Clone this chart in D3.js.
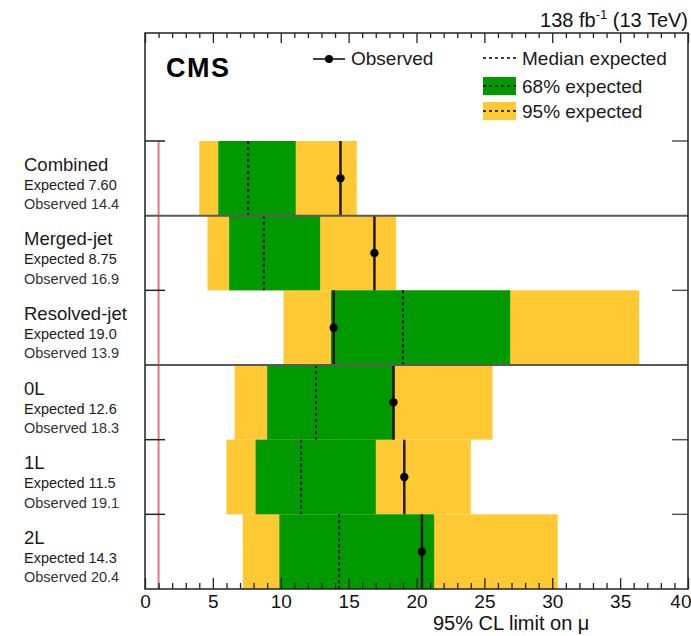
<!DOCTYPE html>
<html>
<head>
<meta charset="utf-8">
<script src="https://cdn.jsdelivr.net/npm/d3@7"></script>
<style>
  html, body { margin: 0; padding: 0; background: #fff; }
  svg { display: block; font-family: "Liberation Sans", Arial, Helvetica, sans-serif; }
</style>
</head>
<body>
<svg id="chart" width="691" height="636"></svg>
<script>
// Upper limits at 95% CL on the signal strength, per analysis channel
const categories = ["Combined", "Merged-jet", "Resolved-jet", "0L", "1L", "2L"];
const expected   = [7.60, 8.75, 19.0, 12.6, 11.5, 14.3];
const observed   = [14.4, 16.9, 13.9, 18.3, 19.1, 20.4];
const lo95       = [4.0, 4.6, 10.2, 6.6, 6.0, 7.2];
const lo68       = [5.4, 6.2, 13.7, 9.0, 8.15, 9.9];
const hi68       = [11.1, 12.9, 26.9, 18.4, 17.0, 21.3];
const hi95       = [15.6, 18.5, 36.4, 25.6, 24.0, 30.4];
const xMajorTicks = [0, 5, 10, 15, 20, 25, 30, 35, 40];
const expectedLabels = ["7.60", "8.75", "19.0", "12.6", "11.5", "14.3"];
const observedLabels = ["14.4", "16.9", "13.9", "18.3", "19.1", "20.4"];

const rows = categories.map((c, i) => ({
  name: c, exp: expected[i], obs: observed[i],
  lo95: lo95[i], lo68: lo68[i], hi68: hi68[i], hi95: hi95[i],
  expLabel: expectedLabels[i], obsLabel: observedLabels[i]
}));

const GREEN = "#009a00", YELLOW = "#ffc933";
const frame = { left: 145, right: 688, top: 33, bottom: 589 };
const rowsTop = 141;

const svg = d3.select("#chart");

const x = d3.scaleLinear().domain([0, 40]).range([frame.left, frame.right]);
const y = d3.scaleBand().domain(categories).range([rowsTop, frame.bottom]).padding(0);

// bands
const g = svg.append("g");
g.selectAll("rect.y95").data(rows).join("rect")
  .attr("x", d => x(d.lo95)).attr("width", d => x(d.hi95) - x(d.lo95))
  .attr("y", d => y(d.name)).attr("height", y.bandwidth())
  .attr("fill", YELLOW);
g.selectAll("rect.g68").data(rows).join("rect")
  .attr("x", d => x(d.lo68)).attr("width", d => x(d.hi68) - x(d.lo68))
  .attr("y", d => y(d.name)).attr("height", y.bandwidth())
  .attr("fill", GREEN);

// median expected
g.selectAll("line.med").data(rows).join("line")
  .attr("x1", d => x(d.exp)).attr("x2", d => x(d.exp))
  .attr("y1", d => y(d.name)).attr("y2", d => y(d.name) + y.bandwidth())
  .attr("stroke", "#111").attr("stroke-width", 2).attr("stroke-dasharray", "3,3");

// observed
g.selectAll("line.obs").data(rows).join("line")
  .attr("x1", d => x(d.obs)).attr("x2", d => x(d.obs))
  .attr("y1", d => y(d.name)).attr("y2", d => y(d.name) + y.bandwidth())
  .attr("stroke", "#2a1608").attr("stroke-width", 2.5);
g.selectAll("circle.obs").data(rows).join("circle")
  .attr("cx", d => x(d.obs)).attr("cy", d => y(d.name) + y.bandwidth() / 2)
  .attr("r", 4.2).attr("fill", "#000");

// mu = 1 reference
svg.append("line")
  .attr("x1", x(1)).attr("x2", x(1)).attr("y1", rowsTop).attr("y2", frame.bottom)
  .attr("stroke", "#e8747e").attr("stroke-width", 2);

// separators between groups
[categories[1], categories[3]].forEach(c => {
  svg.append("line")
    .attr("x1", frame.left).attr("x2", frame.right)
    .attr("y1", y(c)).attr("y2", y(c))
    .attr("stroke", "#5a5a5a").attr("stroke-width", 2);
});

// y ticks on both sides
const yTicks = [rowsTop, y(categories[2]), y(categories[4]), y(categories[5])];
yTicks.forEach(v => {
  svg.append("line").attr("x1", frame.left).attr("x2", frame.left + 20)
    .attr("y1", v).attr("y2", v).attr("stroke", "#222").attr("stroke-width", 1.5);
  svg.append("line").attr("x1", frame.right - 16).attr("x2", frame.right)
    .attr("y1", v).attr("y2", v).attr("stroke", "#555").attr("stroke-width", 1.5);
});

// x axes (bottom with labels, top mirrored ticks)
const minorTicks = d3.range(0, 41, 1).filter(v => v % 5 !== 0);
const bottomMajor = svg.append("g").attr("transform", `translate(0,${frame.bottom})`);
bottomMajor.call(d3.axisTop(x).tickValues(xMajorTicks).tickSize(11).tickFormat(""));
bottomMajor.select(".domain").remove();
const bottomMinor = svg.append("g").attr("transform", `translate(0,${frame.bottom})`);
bottomMinor.call(d3.axisTop(x).tickValues(minorTicks).tickSize(6).tickFormat(""));
bottomMinor.select(".domain").remove();
const bottomLabels = svg.append("g").attr("transform", `translate(0,${frame.bottom})`);
bottomLabels.call(d3.axisBottom(x).tickValues(xMajorTicks).tickSize(0).tickPadding(6)
  .tickFormat(d3.format("d")));
bottomLabels.select(".domain").remove();
bottomLabels.selectAll("text").attr("font-size", 19).attr("fill", "#111")
  .attr("font-family", "Liberation Sans, Arial, sans-serif");
// the last label sits at the window's right edge; keep it inside
bottomLabels.selectAll(".tick").filter(d => d === 40).select("text")
  .attr("text-anchor", "end").attr("dx", 3);

const topMajor = svg.append("g").attr("transform", `translate(0,${frame.top})`);
topMajor.call(d3.axisBottom(x).tickValues(xMajorTicks).tickSize(10).tickFormat(""));
topMajor.select(".domain").remove();
const topMinor = svg.append("g").attr("transform", `translate(0,${frame.top})`);
topMinor.call(d3.axisBottom(x).tickValues(minorTicks).tickSize(5).tickFormat(""));
topMinor.select(".domain").remove();
svg.selectAll(".tick line").attr("stroke", "#222").attr("stroke-width", 1.3);

// frame
svg.append("rect")
  .attr("x", frame.left).attr("y", frame.top)
  .attr("width", frame.right - frame.left).attr("height", frame.bottom - frame.top)
  .attr("fill", "none").attr("stroke", "#222").attr("stroke-width", 1.5);

// x title
svg.append("text").attr("x", 433).attr("y", 630)
  .attr("font-size", 20).attr("fill", "#111").text("95% CL limit on μ");

// luminosity label
const lumi = svg.append("text").attr("x", frame.right).attr("y", 27)
  .attr("text-anchor", "end").attr("font-size", 20).attr("fill", "#111");
lumi.append("tspan").text("138 fb");
lumi.append("tspan").attr("font-size", 13).attr("dy", -8).text("-1");
lumi.append("tspan").attr("dy", 8).text(" (13 TeV)");

// CMS label
svg.append("text").attr("x", 166).attr("y", 77)
  .attr("font-size", 27).attr("font-weight", "bold").attr("letter-spacing", 1.5)
  .attr("fill", "#000").text("CMS");

// legend
const leg = svg.append("g").attr("font-size", 19).attr("fill", "#1a1a1a");
leg.append("line").attr("x1", 313).attr("x2", 345).attr("y1", 59).attr("y2", 59)
  .attr("stroke", "#000").attr("stroke-width", 1.5);
leg.append("circle").attr("cx", 329).attr("cy", 59).attr("r", 4).attr("fill", "#000");
leg.append("text").attr("x", 351).attr("y", 65).text("Observed");

leg.append("line").attr("x1", 483).attr("x2", 516).attr("y1", 58).attr("y2", 58)
  .attr("stroke", "#000").attr("stroke-width", 1.5).attr("stroke-dasharray", "3,3");
leg.append("text").attr("x", 522).attr("y", 65).text("Median expected");

[[GREEN, 77, "68% expected"], [YELLOW, 102, "95% expected"]].forEach(([c, yy, t]) => {
  leg.append("rect").attr("x", 483).attr("y", yy).attr("width", 33).attr("height", 18).attr("fill", c);
  leg.append("line").attr("x1", 483).attr("x2", 516).attr("y1", yy + 9).attr("y2", yy + 9)
    .attr("stroke", "#000").attr("stroke-width", 1.5).attr("stroke-dasharray", "3,3");
  leg.append("text").attr("x", 522).attr("y", yy + 16).text(t);
});

// row labels
const labels = svg.append("g").attr("fill", "#1a1a1a");
rows.forEach(d => {
  const t = y(d.name);
  labels.append("text").attr("x", 24).attr("y", t + 29.5).attr("font-size", 18.5).text(d.name);
  labels.append("text").attr("x", 24).attr("y", t + 48.5).attr("font-size", 14.5)
    .text("Expected " + d.expLabel);
  labels.append("text").attr("x", 24).attr("y", t + 68).attr("font-size", 14.5)
    .attr("fill", "#333").text("Observed " + d.obsLabel);
});
</script>
</body>
</html>
